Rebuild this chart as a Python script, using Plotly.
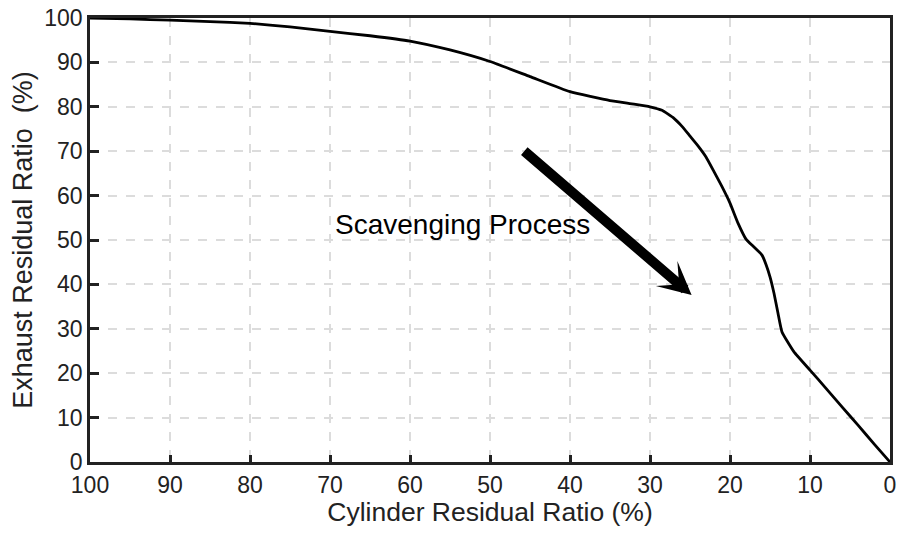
import plotly.graph_objects as go

# Cylinder residual ratio (%) and exhaust residual ratio (%)
cyl = [100, 95, 90, 85, 80, 75, 70, 65, 60, 55, 50, 45, 40, 35, 32, 30, 28.5, 27, 26, 25, 24, 23, 22, 21, 20, 19, 18, 17, 16, 15.5, 15, 14.5, 14, 13.5, 12, 10, 8, 6, 4, 2, 0]
exh = [100, 99.8, 99.5, 99.2, 98.8, 98.0, 97.0, 96.0, 94.8, 92.8, 90.2, 86.8, 83.4, 81.4, 80.6, 80.0, 79.2, 77.4, 75.6, 73.4, 71.2, 68.7, 65.4, 62.0, 58.3, 53.8, 50.2, 48.4, 46.6, 44.5, 41.7, 38.0, 33.5, 29.3, 24.8, 20.7, 16.6, 12.4, 8.3, 4.1, 0]

x_ticks = [100, 90, 80, 70, 60, 50, 40, 30, 20, 10, 0]
y_ticks = [0, 10, 20, 30, 40, 50, 60, 70, 80, 90, 100]

arrow_start = (45.9, 70.3)
arrow_end = (24.8, 37.6)
label_pos = (69.6, 53.6)

font_family = "Liberation Sans, Arial, sans-serif"
ink = "#222222"

fig = go.Figure()
fig.add_trace(go.Scatter(x=cyl, y=exh, mode="lines",
                         line=dict(color="black", width=2.8, shape="spline", smoothing=0.4),
                         showlegend=False, cliponaxis=False))

axis_common = dict(
    showline=True, linecolor=ink, linewidth=2.8, mirror=True,
    ticks="inside", tickcolor=ink, tickwidth=2.5,
    showgrid=True, gridcolor="#dcdcdc", gridwidth=2, griddash="9px,9px",
    zeroline=False, automargin=False,
    tickfont=dict(size=23, color=ink, family=font_family),
)

fig.update_xaxes(range=[100, 0], tickvals=x_ticks, ticklen=7,
                 title=dict(text="Cylinder Residual Ratio (%)", font=dict(size=26.5, color=ink, family=font_family), standoff=6),
                 **axis_common)
fig.update_yaxes(range=[0, 100], tickvals=y_ticks, ticklen=9,
                 title=dict(text="Exhaust Residual Ratio  (%)", font=dict(size=27, color=ink, family=font_family), standoff=4),
                 **axis_common)

fig.add_annotation(x=arrow_end[0], y=arrow_end[1], ax=arrow_start[0], ay=arrow_start[1],
                   xref="x", yref="y", axref="x", ayref="y", text="",
                   showarrow=True, arrowhead=3, arrowsize=0.55, arrowwidth=10, arrowcolor="black")

fig.add_annotation(x=label_pos[0], y=label_pos[1], xref="x", yref="y", text="Scavenging Process",
                   showarrow=False, xanchor="left", yanchor="middle",
                   font=dict(size=28, color="black", family=font_family))

fig.update_layout(width=901, height=533, plot_bgcolor="white", paper_bgcolor="white",
                  margin=dict(l=90, r=11, t=18, b=71))

fig.write_html("out.html", config={"displayModeBar": False},
               post_script="document.body.style.margin='0';document.body.style.overflow='hidden';")
